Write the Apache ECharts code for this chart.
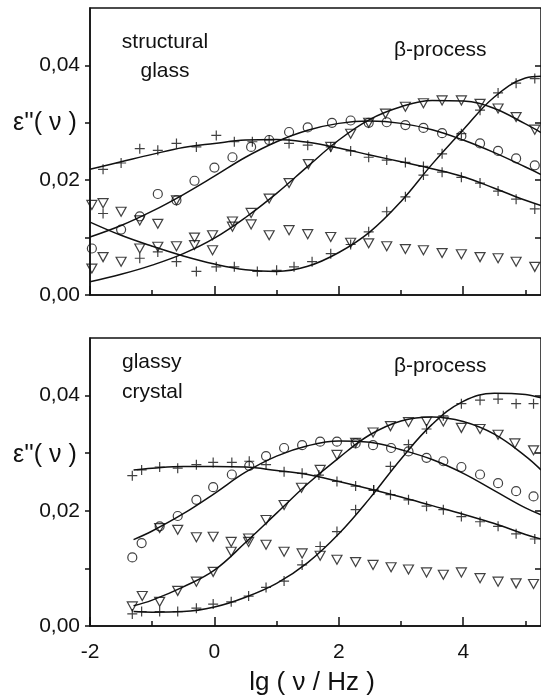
<!DOCTYPE html>
<html>
<head>
<meta charset="utf-8">
<script src="https://cdn.jsdelivr.net/npm/echarts@6/dist/echarts.min.js"></script>
<style>html,body{margin:0;padding:0;background:#fff}#c{width:541px;height:700px}</style>
</head>
<body>
<div id="c"></div>
<script>
// ---------- axis ticks ----------
const xMajorTicks = [-2, 0, 2, 4];
const xMinorTicks = [-1, 1, 3, 5];
const yTicks = [0, 0.01, 0.02, 0.03, 0.04];
const yLabels = [0, 0.02, 0.04];
const yRightTicks = [0.01, 0.02, 0.03, 0.04];

// ---------- TOP PANEL: structural glass ----------
const sgPlusHighX = [-1.79,-1.5,-1.2,-0.91,-0.61,-0.29,0.03,0.32,0.61,0.88,1.2,1.5,1.87,2.19,2.48,2.77,3.07,3.36,3.66,3.97,4.27,4.56,4.85,5.15];
const sgPlusHighY = [0.0219,0.0230,0.0255,0.0252,0.0264,0.0258,0.0278,0.0267,0.0267,0.0270,0.0264,0.0261,0.0258,0.0251,0.0240,0.0235,0.0231,0.0224,0.0214,0.0205,0.0195,0.0181,0.0167,0.0150];
const sgCircleX = [-1.97,-1.5,-1.2,-0.91,-0.61,-0.32,0.0,0.29,0.59,0.88,1.2,1.5,1.89,2.19,2.48,2.77,3.07,3.36,3.66,3.97,4.27,4.56,4.85,5.15];
const sgCircleY = [0.0081,0.0114,0.0137,0.0176,0.0165,0.0199,0.0222,0.0240,0.0258,0.0270,0.0284,0.0292,0.0300,0.0304,0.0300,0.0301,0.0296,0.0291,0.0282,0.0277,0.0264,0.0251,0.0238,0.0226];
const sgTriFitX = [-1.97,-1.79,-1.5,-1.2,-0.91,-0.61,-0.32,-0.03,0.29,0.59,0.88,1.2,1.51,1.87,2.19,2.48,2.75,3.07,3.36,3.66,3.97,4.27,4.56,4.85,5.15];
const sgTriFitY = [0.0046,0.0066,0.0058,0.0081,0.0084,0.0085,0.0100,0.0104,0.0128,0.0143,0.0168,0.0195,0.0228,0.0258,0.0281,0.0300,0.0316,0.0328,0.0334,0.0339,0.0339,0.0333,0.0325,0.0310,0.0288];
const sgTriLowX = [-1.97,-1.79,-1.5,-1.2,-0.91,-0.61,-0.32,-0.03,0.29,0.59,0.88,1.2,1.5,1.87,2.19,2.48,2.77,3.07,3.36,3.66,3.97,4.27,4.56,4.85,5.15];
const sgTriLowY = [0.0157,0.0160,0.0145,0.0130,0.0124,0.0165,0.0087,0.0078,0.0119,0.0123,0.0104,0.0113,0.0106,0.0101,0.0091,0.0090,0.0085,0.0080,0.0078,0.0073,0.0071,0.0066,0.0064,0.0058,0.0049];
const sgPlusLowX = [-1.79,-1.2,-0.91,-0.61,-0.29,0.03,0.32,0.69,1.0,1.28,1.57,1.87,2.19,2.48,2.77,3.07,3.36,3.66,3.97,4.27,4.56,4.85,5.15];
const sgPlusLowY = [0.0142,0.0064,0.0075,0.0058,0.0041,0.0049,0.0049,0.0041,0.0043,0.0049,0.0058,0.0072,0.0088,0.0110,0.0145,0.0171,0.0209,0.0246,0.0281,0.0322,0.0352,0.0369,0.0377];
// fitted curves
const sgCurveX = [-2,-1.5,-1,-0.5,0,0.5,1,1.5,2,2.5,3,3.5,4,4.5,5,5.25];
const sgCurvePlusHigh = [0.0219,0.0232,0.0245,0.0257,0.0264,0.0270,0.0271,0.0266,0.0256,0.0244,0.0232,0.0220,0.0206,0.0186,0.0165,0.0156];
const sgCurveCircle = [0.0101,0.0121,0.0146,0.0175,0.0207,0.0240,0.0267,0.0287,0.0299,0.0303,0.0299,0.0288,0.0270,0.0248,0.0223,0.0210];
const sgCurveTri = [0.0023,0.0036,0.0052,0.0072,0.0099,0.0135,0.0177,0.0224,0.0270,0.0306,0.0328,0.0339,0.0338,0.0325,0.0298,0.0283];
const sgCurvePlusLow = [0.0127,0.0104,0.0085,0.0068,0.0054,0.0044,0.0041,0.0050,0.0074,0.0110,0.0163,0.0228,0.0288,0.0345,0.0378,0.0381];

// ---------- BOTTOM PANEL: glassy crystal ----------
const gcPlusHighX = [-1.32,-1.17,-0.88,-0.59,-0.29,-0.02,0.28,0.56,0.83,1.12,1.41,1.68,1.97,2.27,2.56,2.83,3.12,3.41,3.68,3.97,4.27,4.56,4.85,5.15];
const gcPlusHighY = [0.0261,0.0271,0.0276,0.0274,0.0280,0.0284,0.0284,0.0286,0.0280,0.0268,0.0265,0.0262,0.0251,0.0243,0.0236,0.0228,0.0219,0.0208,0.0202,0.0190,0.0181,0.0173,0.0160,0.0151];
const gcCircleX = [-1.32,-1.17,-0.88,-0.59,-0.29,-0.02,0.28,0.56,0.83,1.12,1.41,1.7,1.97,2.27,2.55,2.84,3.12,3.41,3.68,3.97,4.27,4.56,4.85,5.13];
const gcCircleY = [0.0119,0.0144,0.0173,0.0191,0.0219,0.0241,0.0263,0.0278,0.0295,0.0309,0.0314,0.0320,0.0320,0.0317,0.0314,0.0309,0.0303,0.0292,0.0286,0.0276,0.0263,0.0248,0.0234,0.0225];
const gcTriFitX = [-1.32,-1.16,-0.88,-0.59,-0.29,-0.02,0.27,0.55,0.83,1.12,1.40,1.7,1.97,2.27,2.55,2.83,3.12,3.41,3.68,3.97,4.27,4.56,4.83,5.13];
const gcTriFitY = [0.0034,0.0052,0.0042,0.0061,0.0077,0.0094,0.0129,0.0152,0.0184,0.0210,0.0240,0.0271,0.0297,0.0318,0.0336,0.0347,0.0354,0.0355,0.0355,0.0344,0.0342,0.0332,0.0317,0.0305];
const gcTriLowX = [-0.88,-0.59,-0.29,-0.02,0.27,0.55,0.83,1.12,1.41,1.7,1.97,2.27,2.55,2.84,3.12,3.41,3.68,3.97,4.27,4.56,4.85,5.13];
const gcTriLowY = [0.0170,0.0167,0.0154,0.0155,0.0146,0.0146,0.0141,0.0129,0.0126,0.0122,0.0115,0.0111,0.0106,0.0102,0.0098,0.0093,0.0089,0.0093,0.0083,0.0077,0.0074,0.0073];
const gcPlusLowX = [-1.32,-1.17,-0.88,-0.59,-0.29,-0.02,0.27,0.55,0.83,1.12,1.41,1.7,1.97,2.27,2.56,2.83,3.12,3.41,3.68,3.97,4.27,4.56,4.85,5.13];
const gcPlusLowY = [0.0021,0.0025,0.0025,0.0025,0.0031,0.0038,0.0042,0.0052,0.0067,0.0078,0.0106,0.0138,0.0164,0.0202,0.0236,0.0277,0.0315,0.0342,0.0365,0.0386,0.0392,0.0394,0.0386,0.0386];
const gcCurveX = [-1.3,-1,-0.5,0,0.5,1,1.5,2,2.5,3,3.5,4,4.5,5,5.25];
const gcCurvePlusHigh = [0.0271,0.0274,0.0277,0.0277,0.0276,0.0270,0.0263,0.0251,0.0238,0.0224,0.0209,0.0194,0.0178,0.0159,0.0151];
const gcCurveCircle = [0.0150,0.0165,0.0195,0.0230,0.0267,0.0295,0.0313,0.0321,0.0319,0.0306,0.0289,0.0265,0.0235,0.0205,0.0193];
const gcCurveTri = [0.0035,0.0045,0.0068,0.0097,0.0145,0.0196,0.0247,0.0292,0.0332,0.0356,0.0363,0.0355,0.0333,0.0295,0.0271];
const gcCurvePlusLow = [0.0025,0.0024,0.0025,0.0033,0.0050,0.0074,0.0110,0.0160,0.0222,0.0290,0.0350,0.0390,0.0404,0.0402,0.0396];

// ---------- build ----------
const FONT = 'Liberation Sans, Arial, Helvetica, sans-serif';
const INK = '#111';
const pts = (xs, ys) => xs.map((x, i) => [x, ys[i]]);
const SYM_PLUS = 'path://M5,0L5,10M0,5L10,5';
const SYM_TRI = 'path://M0,0L10,0L5,9Z';

function scatter(xi, yi, xs, ys, sym, size) {
  return {
    type: 'scatter', xAxisIndex: xi, yAxisIndex: yi, data: pts(xs, ys),
    symbol: sym, symbolSize: size, z: 3, silent: true,
    itemStyle: { color: 'transparent', borderColor: INK, borderWidth: 1.2 }
  };
}
function curve(xi, yi, xs, ys) {
  return {
    type: 'line', xAxisIndex: xi, yAxisIndex: yi, data: pts(xs, ys),
    smooth: 0.4, symbol: 'none', z: 2, silent: true,
    lineStyle: { color: INK, width: 1.5 }
  };
}

const grids = [
  { left: 90, top: 8, width: 453, height: 287, show: true, borderColor: INK, borderWidth: 1.5 },
  { left: 90, top: 338, width: 453, height: 288, show: true, borderColor: INK, borderWidth: 1.5 }
];

function xAxes(g, labels) {
  const base = { type: 'value', gridIndex: g, min: -2, max: 5.25, position: 'bottom', splitLine: { show: false } };
  return [
    Object.assign({}, base, {
      axisLine: { show: true, onZero: false, lineStyle: { color: INK, width: 1.5 } },
      axisTick: { show: true, inside: true, length: 9, customValues: xMajorTicks, lineStyle: { color: INK, width: 1.5 } },
      axisLabel: { show: labels, customValues: xMajorTicks, margin: 16, color: INK, fontFamily: FONT, fontSize: 21,
        formatter: v => String(v) }
    }),
    Object.assign({}, base, {
      axisLine: { show: false, onZero: false },
      axisTick: { show: true, inside: true, length: 5, customValues: xMinorTicks, lineStyle: { color: INK, width: 1.5 } },
      axisLabel: { show: false, customValues: xMinorTicks }
    })
  ];
}
function yAxes(g) {
  return [
    { type: 'value', gridIndex: g, min: 0, max: 0.05, position: 'left', splitLine: { show: false },
      axisLine: { show: true, onZero: false, lineStyle: { color: INK, width: 1.5 } },
      axisTick: { show: true, inside: false, length: 5, customValues: yTicks, lineStyle: { color: INK, width: 1.5 } },
      axisLabel: { show: true, customValues: yLabels, margin: 10, color: INK, fontFamily: FONT, fontSize: 21,
        formatter: v => v.toFixed(2).replace('.', ',') } },
    { type: 'value', gridIndex: g, min: 0, max: 0.05, position: 'right', splitLine: { show: false },
      axisLine: { show: false, onZero: false },
      axisTick: { show: true, inside: true, length: 6, customValues: yRightTicks, lineStyle: { color: INK, width: 1.5 } },
      axisLabel: { show: false, customValues: yRightTicks } }
  ];
}

const series = [
  curve(0, 0, sgCurveX, sgCurvePlusHigh),
  curve(0, 0, sgCurveX, sgCurveCircle),
  curve(0, 0, sgCurveX, sgCurveTri),
  curve(0, 0, sgCurveX, sgCurvePlusLow),
  scatter(0, 0, sgPlusHighX, sgPlusHighY, SYM_PLUS, 10),
  scatter(0, 0, sgCircleX, sgCircleY, 'circle', 9),
  scatter(0, 0, sgTriFitX, sgTriFitY, SYM_TRI, [10, 9]),
  scatter(0, 0, sgTriLowX, sgTriLowY, SYM_TRI, [10, 9]),
  scatter(0, 0, sgPlusLowX, sgPlusLowY, SYM_PLUS, 10),

  curve(2, 2, gcCurveX, gcCurvePlusHigh),
  curve(2, 2, gcCurveX, gcCurveCircle),
  curve(2, 2, gcCurveX, gcCurveTri),
  curve(2, 2, gcCurveX, gcCurvePlusLow),
  scatter(2, 2, gcPlusHighX, gcPlusHighY, SYM_PLUS, 10),
  scatter(2, 2, gcCircleX, gcCircleY, 'circle', 9),
  scatter(2, 2, gcTriFitX, gcTriFitY, SYM_TRI, [10, 9]),
  scatter(2, 2, gcTriLowX, gcTriLowY, SYM_TRI, [10, 9]),
  scatter(2, 2, gcPlusLowX, gcPlusLowY, SYM_PLUS, 10)
];

function txt(x, y, text, size, align) {
  return { type: 'text', x: x, y: y, silent: true,
    style: { text: text, fill: INK, font: size + 'px ' + FONT, textAlign: align || 'left', textVerticalAlign: 'middle' } };
}

const chart = echarts.init(document.getElementById('c'), null, { renderer: 'canvas' });
chart.setOption({
  animation: false,
  backgroundColor: '#fff',
  grid: grids,
  xAxis: xAxes(0, false).concat(xAxes(1, true)),
  yAxis: yAxes(0).concat(yAxes(1)),
  series: series,
  graphic: [
    txt(165, 42, 'structural', 21, 'center'),
    txt(165, 71, 'glass', 21, 'center'),
    txt(394, 50, 'β-process', 21),
    txt(122, 362, 'glassy', 21),
    txt(122, 392, 'crystal', 21),
    txt(394, 366, 'β-process', 21),
    txt(13, 123, "ε''( ν )", 25),
    txt(13, 455, "ε''( ν )", 25),
    txt(312, 683, 'lg ( ν / Hz )', 26, 'center')
  ]
});
</script>
</body>
</html>
